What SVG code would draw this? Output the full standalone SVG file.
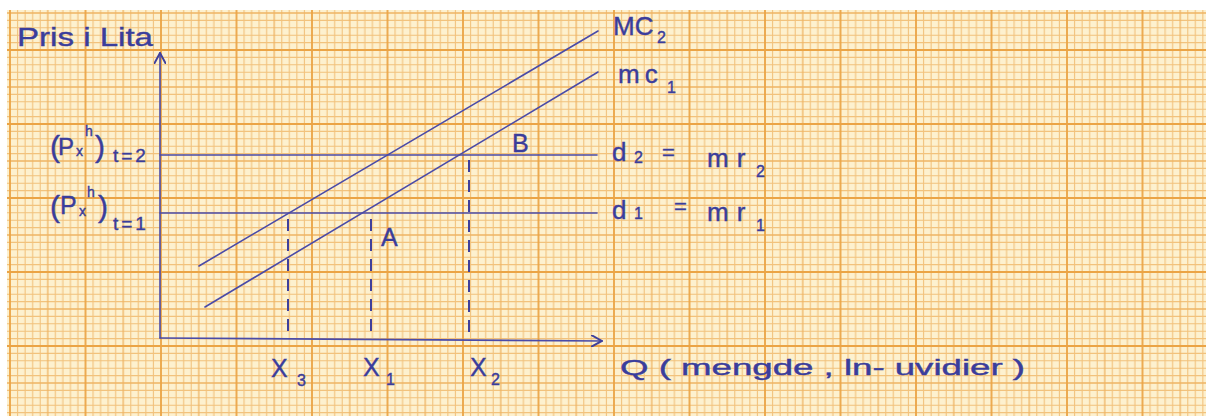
<svg xmlns="http://www.w3.org/2000/svg" width="1206" height="416" viewBox="0 0 1206 416">
<style>
.ink{fill:none;stroke:#4a4ba8;stroke-width:1.6;stroke-linecap:round}
.dash{fill:none;stroke:#3f409c;stroke-width:2;stroke-dasharray:12 8}
text{font-family:"Liberation Sans",Arial,sans-serif;fill:#3a3d9c;stroke:#3a3d9c;stroke-width:0.4}
.big{font-size:26px}
.sub{font-size:16px}
.sm{font-size:14px}
.mid{font-size:22px}
.xl{font-size:25px}
.par{font-size:30px}
.ts{font-size:19px;letter-spacing:3px}
</style>
<defs>
<pattern id="grid" x="10" y="50" width="75.5" height="74" patternUnits="userSpaceOnUse">
<rect width="75.5" height="74" fill="#fdf1cf"/>
<path d="M7.55 0V74M15.1 0V74M22.65 0V74M30.2 0V74M45.3 0V74M52.85 0V74M60.4 0V74M67.95 0V74M0 7.4H75.5M0 14.8H75.5M0 22.2H75.5M0 29.6H75.5M0 44.4H75.5M0 51.8H75.5M0 59.2H75.5M0 66.6H75.5" stroke="#f2c27c" stroke-width="1.1"/>
<path d="M37.75 0V74M0 37H75.5" stroke="#efb464" stroke-width="1.3"/>
<path d="M0 0V74M75.5 0V74M0 0H75.5M0 74H75.5" stroke="#eba445" stroke-width="1.8"/>
</pattern>
<marker id="arrow" viewBox="0 0 12 12" refX="11" refY="6" markerWidth="12" markerHeight="12" markerUnits="userSpaceOnUse" orient="auto">
<path d="M0 0L11 6L0 12" fill="none" stroke="#3f409c" stroke-width="2" stroke-linecap="round"/>
</marker>
</defs>
<rect width="1206" height="416" fill="#ffffff"/>
<rect x="7" y="10" width="1199" height="406" fill="url(#grid)"/>

<g id="connectors">
<path id="y-axis" class="ink" d="M160 338V53" marker-end="url(#arrow)"/>
<path id="x-axis" class="ink" d="M160 338L602 341" marker-end="url(#arrow)"/>
<path id="d2-line" class="ink" d="M160 155H597"/>
<path id="d1-line" class="ink" d="M160 213H597"/>
<path id="mc2-line" class="ink" d="M199 266L598 31"/>
<path id="mc1-line" class="ink" d="M205 307L598 72"/>
<path id="drop-x3" class="dash" d="M288 219V338"/>
<path id="drop-x1" class="dash" d="M371 219V338"/>
<path id="drop-x2" class="dash" d="M469 160V338"/>
</g>

<g id="y-label"><text x="17" y="46" class="big" textLength="136" lengthAdjust="spacingAndGlyphs">Pris i Lita</text></g>

<g id="price-t2">
<text class="par"><tspan x="50" y="157">(</tspan><tspan x="58" y="155" font-size="24">P</tspan><tspan x="76" y="156" class="sm">x</tspan><tspan x="85" y="136" class="sm">h</tspan><tspan x="95" y="157">)</tspan><tspan x="113" y="162" class="ts">t=2</tspan></text>
</g>

<g id="price-t1">
<text class="par"><tspan x="50" y="217">(</tspan><tspan x="60" y="214" font-size="25">P</tspan><tspan x="79" y="216" class="sm">x</tspan><tspan x="87" y="197" class="sm">h</tspan><tspan x="98" y="217">)</tspan><tspan x="113" y="230" class="ts">t=1</tspan></text>
</g>

<g id="mc2-label">
<text class="big"><tspan x="613" y="35">MC</tspan><tspan x="657" y="43" class="sub">2</tspan></text>
</g>
<g id="mc1-label">
<text class="big"><tspan x="618" y="83" letter-spacing="5">mc</tspan><tspan x="667" y="93" class="sub">1</tspan></text>
</g>

<g id="d2-label">
<text class="big"><tspan x="612" y="161">d</tspan><tspan x="634" y="163" class="sub">2</tspan><tspan x="662" y="160" class="mid">=</tspan><tspan x="707" y="167" letter-spacing="8">mr</tspan><tspan x="756" y="177" class="sub">2</tspan></text>
</g>
<g id="d1-label">
<text class="big"><tspan x="612" y="219">d</tspan><tspan x="634" y="219" class="sub">1</tspan><tspan x="674" y="214" class="mid">=</tspan><tspan x="707" y="221" letter-spacing="8">mr</tspan><tspan x="756" y="231" class="sub">1</tspan></text>
</g>

<g id="point-A"><text x="381" y="246" class="xl">A</text></g>
<g id="point-B"><text x="512" y="152" class="xl">B</text></g>

<g id="x3-label"><text class="xl"><tspan x="271" y="377">X</tspan><tspan x="297" y="386" class="sub">3</tspan></text></g>
<g id="x1-label"><text class="xl"><tspan x="363" y="376">X</tspan><tspan x="386" y="385" class="sub">1</tspan></text></g>
<g id="x2-label"><text class="xl"><tspan x="470" y="376">X</tspan><tspan x="491" y="385" class="sub">2</tspan></text></g>

<g id="q-label"><text x="620" y="375" class="mid" textLength="405" lengthAdjust="spacingAndGlyphs">Q ( mengde , ln- uvidier )</text></g>
</svg>
